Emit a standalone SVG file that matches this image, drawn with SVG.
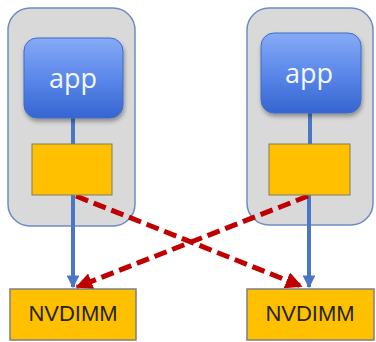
<svg xmlns="http://www.w3.org/2000/svg" width="376" height="342" viewBox="0 0 376 342">
<style>
.host{fill:#d9d9d9;stroke:#6c8cc4;stroke-width:1.5}
.app{fill:url(#appg);stroke:#3f6cc8;stroke-width:1}
.app-t{font-family:"Open Sans","Liberation Sans",sans-serif;font-size:27px;fill:#f4f8ff;text-anchor:middle}
.buf{fill:#ffc000;stroke:#7f7f5f;stroke-width:1}
.nv{fill:#ffc000;stroke:#7f7f7f;stroke-width:1.5}
.nv-t{font-family:"Liberation Sans",Arial,sans-serif;font-size:22px;fill:#262610;text-anchor:middle}
.blue{stroke:#4a76c4;stroke-width:4;fill:none}
.red{stroke:#c00000;stroke-width:5;fill:none;stroke-dasharray:13 6}
</style>
<defs>
<linearGradient id="appg" x1="0" y1="0" x2="0" y2="1">
<stop offset="0" stop-color="#86aaf6"/>
<stop offset="0.5" stop-color="#5b88ea"/>
<stop offset="1" stop-color="#3565d0"/>
</linearGradient>
<filter id="sh" x="-20%" y="-20%" width="140%" height="140%">
<feDropShadow dx="1" dy="3" stdDeviation="2" flood-color="#000" flood-opacity="0.35"/>
</filter>
<marker id="ab" viewBox="0 0 10 10" refX="9" refY="5" markerWidth="3.2" markerHeight="3.2" orient="auto" markerUnits="strokeWidth">
<path d="M0,0 L10,5 L0,10 z" fill="#4a76c4"/>
</marker>
<marker id="ar" viewBox="0 0 10 10" refX="9" refY="5" markerWidth="3.4" markerHeight="3.4" orient="auto" markerUnits="strokeWidth">
<path d="M0,0 L10,5 L0,10 z" fill="#c00000"/>
</marker>
</defs>
<g id="host-left">
<rect class="host" x="8" y="8" width="127" height="218" rx="22"/>
</g>
<g id="host-right">
<rect class="host" x="247" y="8" width="126" height="217" rx="22"/>
</g>
<g id="connectors">
<line class="blue" x1="73" y1="118" x2="73" y2="145"/>
<line class="blue" x1="310" y1="113" x2="310" y2="145"/>
<line class="blue" x1="73" y1="195" x2="73" y2="287" marker-end="url(#ab)"/>
<line class="blue" x1="309" y1="195" x2="309" y2="287" marker-end="url(#ab)"/>
<line class="red" x1="76" y1="196" x2="301" y2="286" marker-end="url(#ar)"/>
<line class="red" x1="308" y1="196" x2="77" y2="287" marker-end="url(#ar)"/>
</g>
<g id="app-left">
<rect class="app" x="24" y="38" width="99" height="80" rx="13" filter="url(#sh)"/>
<text class="app-t" x="73" y="88">app</text>
</g>
<g id="app-right">
<rect class="app" x="261" y="33" width="100" height="80" rx="13" filter="url(#sh)"/>
<text class="app-t" x="309" y="83">app</text>
</g>
<g id="buf-left">
<rect class="buf" x="32" y="144" width="80" height="51"/>
</g>
<g id="buf-right">
<rect class="buf" x="269" y="144" width="81" height="51"/>
</g>
<g id="nvdimm-left">
<rect class="nv" x="10" y="289" width="126" height="51"/>
<text class="nv-t" x="73" y="321">NVDIMM</text>
</g>
<g id="nvdimm-right">
<rect class="nv" x="247" y="289" width="127" height="51"/>
<text class="nv-t" x="310" y="321">NVDIMM</text>
</g>
</svg>
